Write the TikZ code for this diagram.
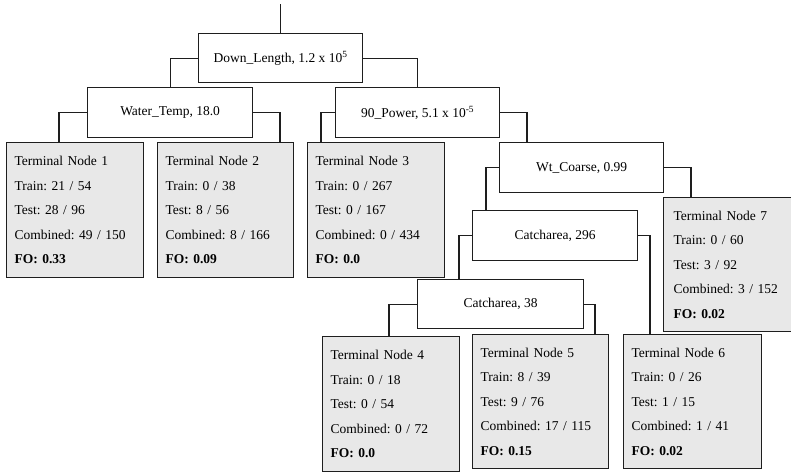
\documentclass[tikz,border=0pt]{standalone}
\usepackage{fontspec}
\setmainfont{Liberation Serif}
\definecolor{tfill}{RGB}{232,232,232}
\definecolor{lc}{RGB}{30,30,30}
\frenchspacing
\begin{document}
\begin{tikzpicture}[x=1pt,y=-1pt,
  splitbox/.style={draw=lc,line width=1.2pt,fill=white,anchor=north west,inner sep=0pt,
    minimum height=49pt,font=\fontsize{13.5}{16}\selectfont},
  termbox/.style={draw=lc,line width=1.2pt,fill=tfill,anchor=north west,inner xsep=8pt,
    inner ysep=0pt,text width=121pt,minimum height=135pt,align=left,
    font=\fontsize{13.5}{24.5}\selectfont},
  conn/.style={draw=lc,line width=1.2pt}]
\useasboundingbox (0,0) rectangle (791,472);
% split nodes
\node[splitbox,minimum width=164pt] (dl) at (198,33) {Down\_Length, 1.2 x 10\textsuperscript{5}};
\node[splitbox,minimum width=165pt,minimum height=50pt] (wt) at (87,87) {Water\_Temp, 18.0};
\node[splitbox,minimum width=164pt,minimum height=50pt] (pw) at (335,87) {90\_Power, 5.1 x 10\textsuperscript{-5}};
\node[splitbox,minimum width=164pt,minimum height=50pt] (wc) at (499,142) {Wt\_Coarse, 0.99};
\node[splitbox,minimum width=165pt,minimum height=50pt] (ca) at (472,210) {Catcharea, 296};
\node[splitbox,minimum width=166pt] (cb) at (417,279) {Catcharea, 38};
% terminal nodes
\node[termbox] (t1) at (6,142) {Terminal Node 1\\Train: 21 / 54\\Test: 28 / 96\\Combined: 49 / 150\\\textbf{FO: 0.33}};
\node[termbox,text width=120pt] (t2) at (157,142) {Terminal Node 2\\Train: 0 / 38\\Test: 8 / 56\\Combined: 8 / 166\\\textbf{FO: 0.09}};
\node[termbox] (t3) at (307,142) {Terminal Node 3\\Train: 0 / 267\\Test: 0 / 167\\Combined: 0 / 434\\\textbf{FO: 0.0}};
\node[termbox,inner xsep=10pt,text width=117pt,minimum height=134pt] (t7) at (663,197) {Terminal Node 7\\Train: 0 / 60\\Test: 3 / 92\\Combined: 3 / 152\\\textbf{FO: 0.02}};
\node[termbox] (t4) at (322,336) {Terminal Node 4\\Train: 0 / 18\\Test: 0 / 54\\Combined: 0 / 72\\\textbf{FO: 0.0}};
\node[termbox,text width=120pt,minimum height=134pt] (t5) at (472,334) {Terminal Node 5\\Train: 8 / 39\\Test: 9 / 76\\Combined: 17 / 115\\\textbf{FO: 0.15}};
\node[termbox,text width=122pt,minimum height=134pt] (t6) at (623,334) {Terminal Node 6\\Train: 0 / 26\\Test: 1 / 15\\Combined: 1 / 41\\\textbf{FO: 0.02}};
% connectors
\coordinate (root) at (dl.north |- 0,4);
\draw[conn] (root) -- (dl.north);
\draw[conn] (dl.west) -| (wt.north);
\draw[conn] (dl.east) -| (pw.north);
\draw[conn] (wt.west) -| (59,0 |- t1.north);
\draw[conn] (wt.east) -| (280,0 |- t2.north);
\draw[conn] (pw.west) -| (321,0 |- t3.north);
\draw[conn] (pw.east) -| (527,0 |- wc.north);
\draw[conn] (wc.west) -| (486,0 |- ca.north);
\draw[conn] (wc.east) -| (691,0 |- t7.north);
\draw[conn] (ca.west) -| (459,0 |- cb.north);
\draw[conn] (ca.east) -| (650,0 |- t6.north);
\draw[conn] (cb.west) -| (389,0 |- t4.north);
\draw[conn] (cb.east) -| (595,0 |- t5.north);
\end{tikzpicture}
\end{document}
